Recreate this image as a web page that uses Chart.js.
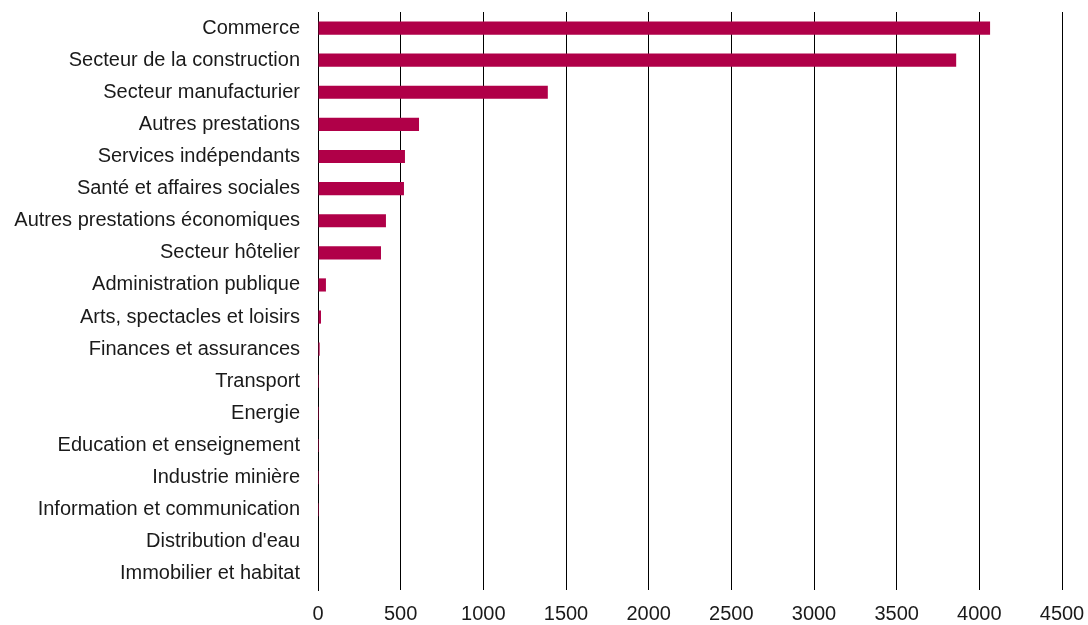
<!DOCTYPE html>
<html>
<head>
<meta charset="utf-8">
<script src="https://cdn.jsdelivr.net/npm/chart.js@4/dist/chart.umd.min.js"></script>
<style>
  html, body { margin: 0; padding: 0; background: #fff; }
  #wrap { width: 1088px; height: 625px; }
</style>
</head>
<body>
<div id="wrap"><canvas id="chart"></canvas></div>
<script>
const categories = [
  'Commerce', 'Secteur de la construction', 'Secteur manufacturier', 'Autres prestations',
  'Services indépendants', 'Santé et affaires sociales', 'Autres prestations économiques',
  'Secteur hôtelier', 'Administration publique', 'Arts, spectacles et loisirs',
  'Finances et assurances', 'Transport', 'Energie', 'Education et enseignement',
  'Industrie minière', 'Information et communication', "Distribution d'eau", 'Immobilier et habitat'
];
const values = [4065, 3860, 1390, 611, 526, 520, 411, 381, 48, 18, 10, 6, 6, 6, 6, 6, 0, 0];
const xTicks = [0, 500, 1000, 1500, 2000, 2500, 3000, 3500, 4000, 4500];

const font = { family: '"Liberation Sans", Arial, sans-serif', size: 20 };

new Chart(document.getElementById('chart'), {
  type: 'bar',
  data: {
    labels: categories,
    datasets: [{
      data: values,
      backgroundColor: '#b00048',
      barPercentage: 0.41,
      categoryPercentage: 1
    }]
  },
  options: {
    indexAxis: 'y',
    responsive: true,
    maintainAspectRatio: false,
    animation: false,
    layout: { padding: { top: 12, right: 26, left: 0, bottom: 0 } },
    plugins: { legend: { display: false }, tooltip: { enabled: false } },
    scales: {
      x: {
        min: 0,
        max: 4500,
        afterBuildTicks: (scale) => { scale.ticks = xTicks.map(v => ({ value: v })); },
        afterFit: (scale) => {
          scale.height = 35;
          scale.paddingLeft = 0;
          scale.paddingRight = 0;
        },
        grid: { color: '#000', lineWidth: 1, drawTicks: false },
        border: { display: false },
        ticks: { color: '#1a1a1a', font, padding: 12, maxRotation: 0, callback: (v) => String(v) }
      },
      y: {
        afterFit: (scale) => {
          scale.width = 318;
          scale.paddingTop = 0;
          scale.paddingBottom = 0;
        },
        grid: { display: false, drawTicks: false },
        border: { display: true, color: '#000' },
        ticks: { color: '#1a1a1a', font, padding: 18, autoSkip: false }
      }
    }
  }
});
</script>
</body>
</html>
